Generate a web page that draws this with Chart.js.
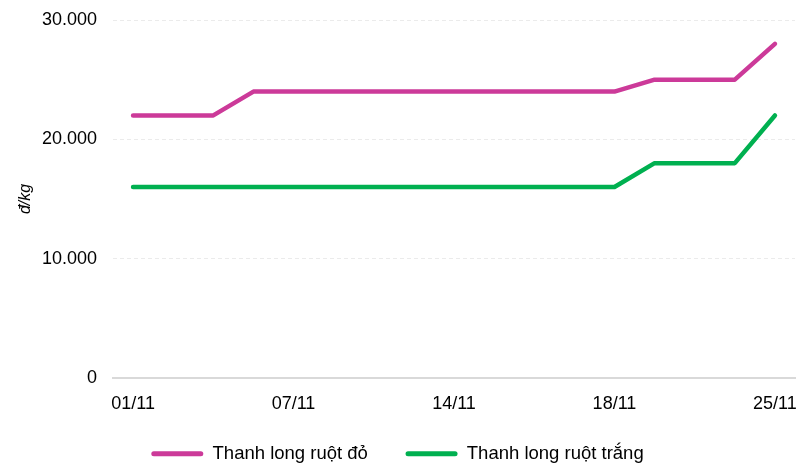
<!DOCTYPE html>
<html>
<head>
<meta charset="utf-8">
<script src="https://cdn.jsdelivr.net/npm/chart.js@4"></script>
<style>
  html, body { margin: 0; padding: 0; background: #fff; }
  #wrap { width: 796px; height: 463px; }
</style>
</head>
<body>
<div id="wrap"><canvas id="priceChart"></canvas></div>
<script>
const dates = ['01/11', '02/11', '03/11', '04/11', '07/11', '08/11', '09/11', '10/11', '14/11',
  '15/11', '16/11', '17/11', '18/11', '21/11', '22/11', '23/11', '25/11'];
const redFlesh = [22000, 22000, 22000, 24000, 24000, 24000, 24000, 24000, 24000,
  24000, 24000, 24000, 24000, 25000, 25000, 25000, 28000];
const whiteFlesh = [16000, 16000, 16000, 16000, 16000, 16000, 16000, 16000, 16000,
  16000, 16000, 16000, 16000, 18000, 18000, 18000, 22000];
const yTicks = [0, 10000, 20000, 30000];

const font = 'Liberation Sans, Arial, sans-serif';

document.addEventListener('DOMContentLoaded', function () {
  const ctx = document.getElementById('priceChart').getContext('2d');

  new Chart(ctx, {
    type: 'line',
    data: {
      labels: dates,
      datasets: [{
        label: 'Thanh long ruột đỏ',
        data: redFlesh,
        borderColor: '#CC3A99',
        backgroundColor: '#CC3A99',
      },
      {
        label: 'Thanh long ruột trắng',
        data: whiteFlesh,
        borderColor: '#00B050',
        backgroundColor: '#00B050',
      }],
    },
    options: {
      animation: false,
      responsive: true,
      maintainAspectRatio: false,
      layout: {
        padding: { top: 20, right: 1, left: 0, bottom: -10 },
      },
      elements: {
        line: { borderWidth: 4.5, tension: 0, borderCapStyle: 'round', borderJoinStyle: 'round' },
        point: { radius: 0 },
      },
      plugins: {
        legend: {
          position: 'bottom',
          labels: {
            color: '#000',
            font: { family: font, size: 18.5 },
            boxWidth: 52,
            boxHeight: 5,
            padding: 12,
            useBorderRadius: true,
            borderRadius: 2.5,
            generateLabels: function (chart) {
              const items = Chart.defaults.plugins.legend.labels.generateLabels(chart);
              items.forEach(function (it, i) {
                it.lineWidth = 0;
                // wider gap between the two items without a taller legend
                if (i === 0) it.text += '     ';
              });
              return items;
            },
          },
        },
        tooltip: { enabled: false },
      },
      scales: {
        x: {
          offset: true,
          afterFit: function (scale) {
            scale.paddingRight = 0;
            scale.paddingLeft = 0;
            scale.height += 3;
          },
          grid: { display: false, drawTicks: false },
          border: { display: true, color: '#d9d9d9', width: 2 },
          ticks: {
            color: '#000',
            font: { family: font, size: 18 },
            padding: 15,
            autoSkip: false,
            maxRotation: 0,
            callback: function (value, index) {
              return index % 4 === 0 ? dates[index] : '';
            },
          },
        },
        y: {
          min: 0,
          max: 30000,
          afterFit: function (scale) {
            scale.width = 113;
            scale.paddingTop = 0;
            scale.paddingBottom = 0;
          },
          afterBuildTicks: function (scale) {
            scale.ticks = yTicks.map(function (v) { return { value: v }; });
          },
          grid: { color: '#ebebeb', drawTicks: false },
          border: { display: false, dash: [4, 3] },
          ticks: {
            color: '#000',
            font: { family: font, size: 18 },
            padding: 16,
            callback: function (v) {
              return v === 0 ? '0' : v.toLocaleString('de-DE');
            },
          },
          title: {
            display: true,
            text: 'đ/kg',
            color: '#000',
            font: { family: font, size: 16, style: 'italic' },
            padding: { top: 16, bottom: 8 },
          },
        },
      },
    },
  });
});
</script>
</body>
</html>
